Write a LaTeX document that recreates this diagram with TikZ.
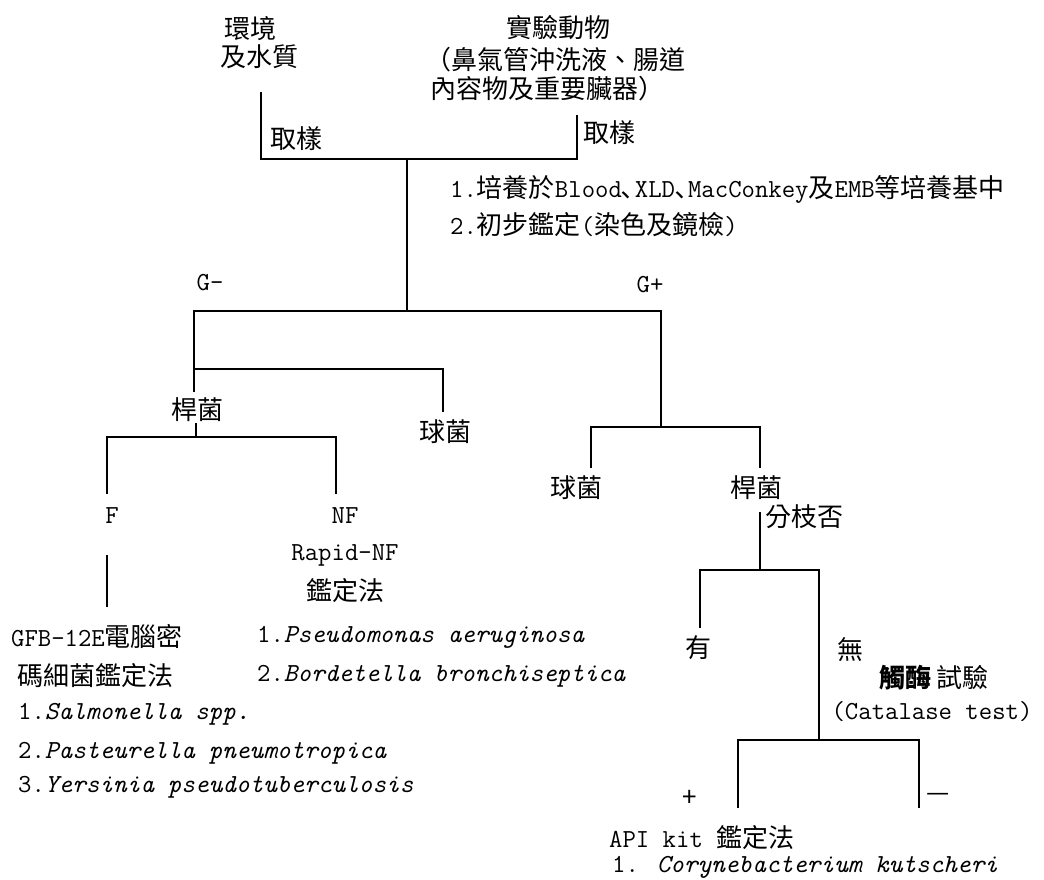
\documentclass[tikz,border=0pt]{standalone}
\usepackage{fontspec}
\newfontfamily\cjkf{Noto Sans CJK TC}
\newcommand\la[1]{{\ttfamily #1}}
\newcommand\li[1]{{\ttfamily\itshape #1}}
\begin{document}
\begin{tikzpicture}[x=1pt,y=-1pt,
  txt/.style={inner sep=0pt, font=\cjkf\fontsize{26}{30}\selectfont},
  ln/.style={line width=1.7pt, line join=miter}]
\useasboundingbox[fill=white] (0,0) rectangle (1044,879);
% texts
\node[txt] (env1) at (250,29) {環境};
\node[txt] (env2) at (259,57) {及水質};
\node[txt] (ani1) at (558,28) {實驗動物};
\node[txt] (ani2) at (555,60) {（鼻氣管沖洗液、腸道};
\node[txt] (ani3) at (547,89) {內容物及重要臟器）};
\node[txt,anchor=west] (smp1) at (270,139) {取樣};
\node[txt,anchor=west] (smp2) at (583,133) {取樣};
\node[txt,anchor=west] (cul1) at (450,189) {\la{1.}培養於\la{Blood}､\la{XLD}､\la{MacConkey}及\la{EMB}等培養基中};
\node[txt,anchor=west] (cul2) at (450,225) {\la{2.}初步鑑定\la{(}染色及鏡檢\la{)}};
\node[txt] (gneg) at (210,283) {\la{G-}};
\node[txt] (gpos) at (650,285) {\la{G+}};
\node[txt] (rodn) at (197,410) {桿菌};
\node[txt] (cocn) at (445,432) {球菌};
\node[txt] (fer) at (112,516) {\la{F}};
\node[txt] (nfer) at (345,516) {\la{NF}};
\node[txt] (rnf1) at (345,555) {\la{Rapid-NF}};
\node[txt] (rnf2) at (345,591) {鑑定法};
\node[txt] (gfb1) at (97,637) {\la{GFB-12E}電腦密};
\node[txt] (gfb2) at (95,676) {碼細菌鑑定法};
\node[txt,anchor=west] (sp1) at (18,714) {\la{1.}\li{Salmonella spp.}};
\node[txt,anchor=west] (sp2) at (18,753) {\la{2.}\li{Pasteurella pneumotropica}};
\node[txt,anchor=west] (sp3) at (18,787) {\la{3.}\li{Yersinia pseudotuberculosis}};
\node[txt,anchor=west] (ps1) at (257,637) {\la{1.}\li{Pseudomonas aeruginosa}};
\node[txt,anchor=west] (ps2) at (257,676) {\la{2.}\li{Bordetella bronchiseptica}};
\node[txt] (cocp) at (576,488) {球菌};
\node[txt] (rodp) at (756,488) {桿菌};
\node[txt,anchor=west] (brq) at (765,517) {分枝否};
\node[txt] (yes) at (698,648) {有};
\node[txt] (no) at (850,650) {無};
\node[txt] (cat1) at (934,678) {{\bfseries 觸酶} 試驗};
\node[txt] (cat2) at (932,712) {\la{(Catalase test)}};
\node[txt] (plus) at (690,798) {+};
\node[txt] (minus) at (938,797) {—};
\node[txt,anchor=base west,text height=19pt,text depth=1pt] (api1) at (609,847) {\la{API kit }鑑定法};
\node[txt,anchor=base west,text height=17pt,text depth=5pt] (api2) at (612,872) {\la{1. }\li{Corynebacterium kutscheri}};
% junction coordinates
\coordinate (a1) at (261,92);
\coordinate (a2) at (261,159);
\coordinate (a3) at (577,159);
\coordinate (a4) at (577,115);
\coordinate (m1) at (407,159);
\coordinate (m2) at (407,311);
\coordinate (g1) at (194,311);
\coordinate (g2) at (661,311);
\coordinate (n1) at (194,392);
\coordinate (n2) at (194,369);
\coordinate (n3) at (443,369);
\coordinate (n4) at (443,412);
\coordinate (r1) at (196,423);
\coordinate (r2) at (196,437);
\coordinate (r3) at (107,437);
\coordinate (r4) at (336,437);
\coordinate (r5) at (107,494);
\coordinate (r6) at (336,494);
\coordinate (f1) at (107,555);
\coordinate (f2) at (107,607);
\coordinate (p1) at (661,427);
\coordinate (p2) at (591,427);
\coordinate (p3) at (760,427);
\coordinate (p4) at (591,468);
\coordinate (p5) at (760,468);
\coordinate (b1) at (760,512);
\coordinate (b2) at (760,570);
\coordinate (b3) at (700,570);
\coordinate (b4) at (819,570);
\coordinate (b5) at (700,628);
\coordinate (b6) at (819,740);
\coordinate (c1) at (738,740);
\coordinate (c2) at (919,740);
\coordinate (c3) at (738,808);
\coordinate (c4) at (919,808);
% connectors
\draw[ln] (a1) -- (a2) -- (a3) -- (a4);
\draw[ln] (m1) -- (m2);
\draw[ln] (n1) -- (g1) -- (g2) -- (p1);
\draw[ln] (n2) -- (n3) -- (n4);
\draw[ln] (r1) -- (r2);
\draw[ln] (r5) -- (r3) -- (r4) -- (r6);
\draw[ln] (f1) -- (f2);
\draw[ln] (p4) -- (p2) -- (p3) -- (p5);
\draw[ln] (b1) -- (b2);
\draw[ln] (b5) -- (b3) -- (b4) -- (b6);
\draw[ln] (c3) -- (c1) -- (c2) -- (c4);
\end{tikzpicture}
\end{document}
